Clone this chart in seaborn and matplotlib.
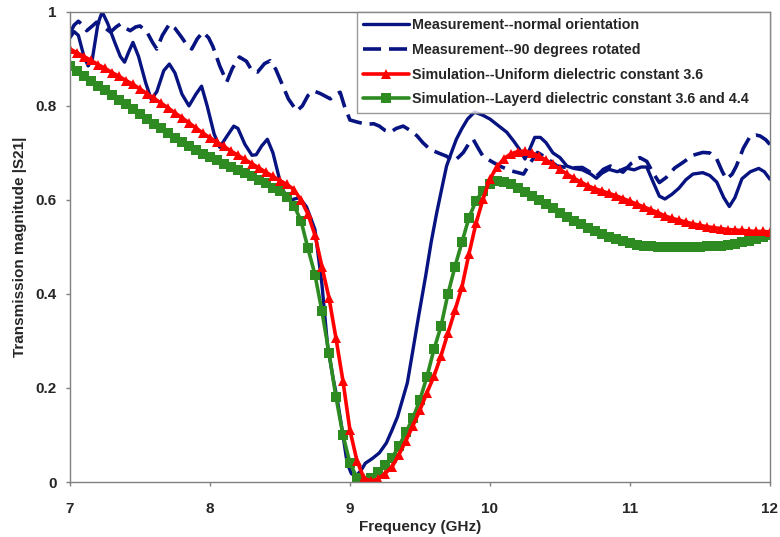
import numpy as np
import pandas as pd
import matplotlib
matplotlib.use("Agg")
import matplotlib.pyplot as plt
import seaborn as sns

# ---------------- data ----------------
freq_sim = np.round(np.arange(7.0, 12.0001, 0.05), 2)

sim_uniform = [
    0.921, 0.913, 0.905, 0.897, 0.888, 0.880, 0.871, 0.863, 0.854, 0.846,
    0.836, 0.826, 0.816, 0.806, 0.796, 0.785, 0.775, 0.764, 0.753, 0.742,
    0.732, 0.723, 0.714, 0.704, 0.695, 0.686, 0.677, 0.668, 0.659, 0.650,
    0.641, 0.633, 0.622, 0.600, 0.570, 0.525, 0.458, 0.392, 0.306, 0.215,
    0.110, 0.045, 0.008, 0.002, 0.006, 0.018, 0.032, 0.058, 0.088, 0.120,
    0.153, 0.190, 0.225, 0.268, 0.317, 0.365, 0.415, 0.485, 0.550, 0.601,
    0.645, 0.670, 0.688, 0.698, 0.703, 0.704, 0.700, 0.693, 0.685, 0.676,
    0.665, 0.655, 0.646, 0.638, 0.630, 0.624, 0.619, 0.614, 0.609, 0.603,
    0.597, 0.591, 0.585, 0.579, 0.573, 0.566, 0.561, 0.557, 0.553, 0.549,
    0.546, 0.543, 0.541, 0.539, 0.537, 0.536, 0.535, 0.534, 0.533, 0.533,
    0.532,
]

sim_layered = [
    0.884, 0.874, 0.864, 0.854, 0.843, 0.833, 0.823, 0.813, 0.803, 0.793,
    0.783, 0.772, 0.762, 0.752, 0.742, 0.732, 0.723, 0.714, 0.706, 0.698,
    0.691, 0.684, 0.677, 0.670, 0.664, 0.657, 0.650, 0.643, 0.636, 0.626,
    0.618, 0.606, 0.588, 0.556, 0.497, 0.441, 0.363, 0.275, 0.181, 0.100,
    0.040, 0.009, 0.003, 0.009, 0.021, 0.036, 0.051, 0.076, 0.106, 0.136,
    0.175, 0.224, 0.282, 0.331, 0.400, 0.458, 0.510, 0.562, 0.598, 0.620,
    0.633, 0.640, 0.638, 0.633, 0.626, 0.617, 0.609, 0.600, 0.591, 0.582,
    0.573, 0.564, 0.556, 0.548, 0.541, 0.534, 0.527, 0.521, 0.516, 0.512,
    0.508, 0.505, 0.503, 0.501, 0.500, 0.499, 0.499, 0.499, 0.499, 0.499,
    0.500, 0.501, 0.502, 0.503, 0.505, 0.507, 0.510, 0.513, 0.517, 0.521,
    0.525,
]

freq_meas_normal = [
    7.00, 7.03, 7.06, 7.10, 7.13, 7.16, 7.20, 7.23, 7.27, 7.32, 7.36, 7.39,
    7.42, 7.45, 7.49, 7.54, 7.58, 7.62, 7.67, 7.71, 7.75, 7.80, 7.85, 7.90,
    7.94, 7.98, 8.03, 8.07, 8.12, 8.17, 8.20, 8.25, 8.30, 8.33, 8.37, 8.41,
    8.45, 8.50, 8.54, 8.58, 8.64, 8.69, 8.75, 8.80, 8.84, 8.88, 8.91, 8.95,
    8.98, 9.01, 9.04, 9.08, 9.11, 9.16, 9.21, 9.26, 9.30, 9.34, 9.38, 9.41,
    9.45, 9.49, 9.54, 9.58, 9.62, 9.66, 9.69, 9.73, 9.76, 9.80, 9.84, 9.89,
    9.95, 10.00, 10.06, 10.12, 10.17, 10.21, 10.25, 10.28, 10.32, 10.36,
    10.40, 10.45, 10.50, 10.55, 10.60, 10.66, 10.72, 10.76, 10.80, 10.85,
    10.91, 10.97, 11.03, 11.08, 11.12, 11.17, 11.21, 11.25, 11.30, 11.35,
    11.40, 11.45, 11.52, 11.57, 11.62, 11.67, 11.71, 11.75, 11.80, 11.86,
    11.92, 11.96, 12.00,
]
meas_normal = [
    0.945, 0.958, 0.950, 0.905, 0.885, 0.900, 0.975, 1.000, 0.975, 0.935, 0.905, 0.893,
    0.915, 0.935, 0.905, 0.850, 0.814, 0.830, 0.875, 0.889, 0.870, 0.825, 0.800, 0.825,
    0.842, 0.800, 0.740, 0.712, 0.735, 0.757, 0.752, 0.718, 0.695, 0.696, 0.715, 0.729,
    0.700, 0.640, 0.608, 0.600, 0.605, 0.585, 0.537, 0.420, 0.290, 0.220, 0.175, 0.100,
    0.040, 0.018, 0.012, 0.025, 0.040, 0.050, 0.062, 0.083, 0.110, 0.139, 0.180, 0.211,
    0.281, 0.352, 0.437, 0.510, 0.573, 0.630, 0.672, 0.705, 0.729, 0.752, 0.772, 0.787,
    0.780, 0.772, 0.758, 0.744, 0.725, 0.708, 0.687, 0.705, 0.733, 0.733,
    0.722, 0.700, 0.690, 0.672, 0.667, 0.664, 0.655, 0.646, 0.657, 0.665,
    0.660, 0.668, 0.664, 0.670, 0.670, 0.635, 0.608, 0.602, 0.612, 0.625,
    0.643, 0.655, 0.658, 0.652, 0.638, 0.605, 0.586, 0.605, 0.645, 0.660,
    0.667, 0.660, 0.644,
]

freq_meas_rot = [
    7.00, 7.03, 7.06, 7.09, 7.12, 7.16, 7.19, 7.24, 7.29, 7.33, 7.36, 7.40,
    7.43, 7.47, 7.50, 7.55, 7.59, 7.62, 7.66, 7.71, 7.75, 7.79, 7.83, 7.87,
    7.91, 7.95, 7.99, 8.02, 8.07, 8.12, 8.16, 8.21, 8.26, 8.30, 8.34, 8.39,
    8.43, 8.47, 8.50, 8.56, 8.62, 8.66, 8.70, 8.74, 8.79, 8.86, 8.90, 8.93,
    8.96, 9.00, 9.06, 9.12, 9.17, 9.21, 9.25, 9.29, 9.33, 9.38, 9.43, 9.48,
    9.52, 9.57, 9.63, 9.69, 9.74, 9.78, 9.81, 9.85, 9.88, 9.92, 9.95, 10.01,
    10.07, 10.15, 10.24, 10.29, 10.34, 10.40, 10.48, 10.57, 10.66, 10.71,
    10.76, 10.81, 10.86, 10.91, 10.95, 11.01, 11.07, 11.12, 11.17, 11.21,
    11.26, 11.32, 11.38, 11.45, 11.52, 11.57, 11.62, 11.66, 11.69, 11.73,
    11.76, 11.81, 11.86, 11.90, 11.93, 11.97, 12.00,
]
meas_rot = [
    0.955, 0.972, 0.980, 0.972, 0.960, 0.970, 0.978, 0.968, 0.957, 0.968, 0.974, 0.965,
    0.960, 0.968, 0.970, 0.957, 0.935, 0.921, 0.950, 0.974, 0.965, 0.949, 0.932, 0.921,
    0.943, 0.957, 0.945, 0.927, 0.885, 0.851, 0.880, 0.904, 0.895, 0.875, 0.872, 0.890,
    0.896, 0.878, 0.857, 0.815, 0.789, 0.800, 0.822, 0.832, 0.826, 0.815, 0.825, 0.829,
    0.800, 0.770, 0.765, 0.761, 0.762, 0.757, 0.748, 0.744, 0.752, 0.757, 0.748, 0.736,
    0.722, 0.708, 0.700, 0.693, 0.682, 0.692, 0.701, 0.720, 0.729, 0.708, 0.693, 0.682,
    0.672, 0.662, 0.655, 0.680, 0.701, 0.690, 0.672, 0.668, 0.669, 0.660,
    0.650, 0.665, 0.672, 0.665, 0.659, 0.678, 0.690, 0.682, 0.655, 0.637,
    0.648, 0.668, 0.680, 0.695, 0.701, 0.700, 0.687, 0.660, 0.644, 0.655,
    0.672, 0.710, 0.736, 0.738, 0.736, 0.728, 0.718,
]

labels = [
    "Measurement--normal orientation",
    "Measurement--90 degrees rotated",
    "Simulation--Uniform dielectric constant 3.6",
    "Simulation--Layerd dielectric constant 3.6 and 4.4",
]
x_ticks = [7, 8, 9, 10, 11, 12]
y_ticks = [0, 0.2, 0.4, 0.6, 0.8, 1.0]
y_ticklabels = ["0", "0.2", "0.4", "0.6", "0.8", "1"]

# ---------------- plot ----------------
sns.set_style("white")
plt.rcParams["font.family"] = ["Liberation Sans", "DejaVu Sans"]
plt.rcParams["font.weight"] = "bold"

navy = "#061380"
red = "#FF0000"
green = "#2E8B22"

fig = plt.figure(figsize=(7.8, 5.37), dpi=100)
ax = fig.add_axes([0.0897, 0.1024, 0.8974, 0.8755])

df_n = pd.DataFrame({"f": freq_meas_normal, "v": meas_normal})
df_r = pd.DataFrame({"f": freq_meas_rot, "v": meas_rot})
df_u = pd.DataFrame({"f": freq_sim, "v": sim_uniform})
df_l = pd.DataFrame({"f": freq_sim, "v": sim_layered})

sns.lineplot(data=df_n, x="f", y="v", ax=ax, color=navy, lw=2.4, label=labels[0])
sns.lineplot(data=df_r, x="f", y="v", ax=ax, color=navy, lw=2.6, label=labels[1])
ax.lines[-1].set_dashes((5, 2.2))
sns.lineplot(data=df_l, x="f", y="v", ax=ax, color=green, lw=2.6, marker="s",
             markersize=7.6, markeredgewidth=0, label=labels[3])
sns.lineplot(data=df_u, x="f", y="v", ax=ax, color=red, lw=2.6, marker="^",
             markersize=7.2, markeredgewidth=0, label=labels[2])

ax.set_xlim(7, 12)
ax.set_ylim(0, 1)
ax.set_xticks(x_ticks)
ax.set_xticklabels([str(t) for t in x_ticks])
ax.set_yticks(y_ticks)
ax.set_yticklabels(y_ticklabels)
ax.tick_params(axis="both", which="major", labelsize=11, length=3, width=1,
               direction="out", bottom=True, left=True, color="#808080")
ax.tick_params(axis="x", pad=11.5)
ax.tick_params(axis="y", pad=6.5)
for t in ax.get_xticklabels() + ax.get_yticklabels():
    t.set_fontweight("bold")

ax.set_xlabel("Frequency (GHz)", fontsize=11, fontweight="bold", labelpad=2.5)
ax.set_ylabel("Transmission magnitude |S21|", fontsize=11, fontweight="bold",
              labelpad=6)

for s in ["top", "right", "left", "bottom"]:
    ax.spines[s].set_visible(True)
    ax.spines[s].set_color("#808080")
    ax.spines[s].set_linewidth(1.0)

handles, labs = ax.get_legend_handles_labels()
order = [labs.index(l) for l in labels]
leg = ax.legend([handles[i] for i in order], [labs[i] for i in order],
                loc="upper left", bbox_to_anchor=(0.41, 0.0, 0.59, 1.0),
                mode="expand", borderaxespad=0,
                frameon=True, fancybox=False, handlelength=3.2,
                handletextpad=0.2, labelspacing=0.75, borderpad=0.45,
                prop={"weight": "bold", "size": 10.3})
leg.get_frame().set_edgecolor("#808080")
leg.get_frame().set_linewidth(1.0)

fig.savefig("out.png", dpi=100)
